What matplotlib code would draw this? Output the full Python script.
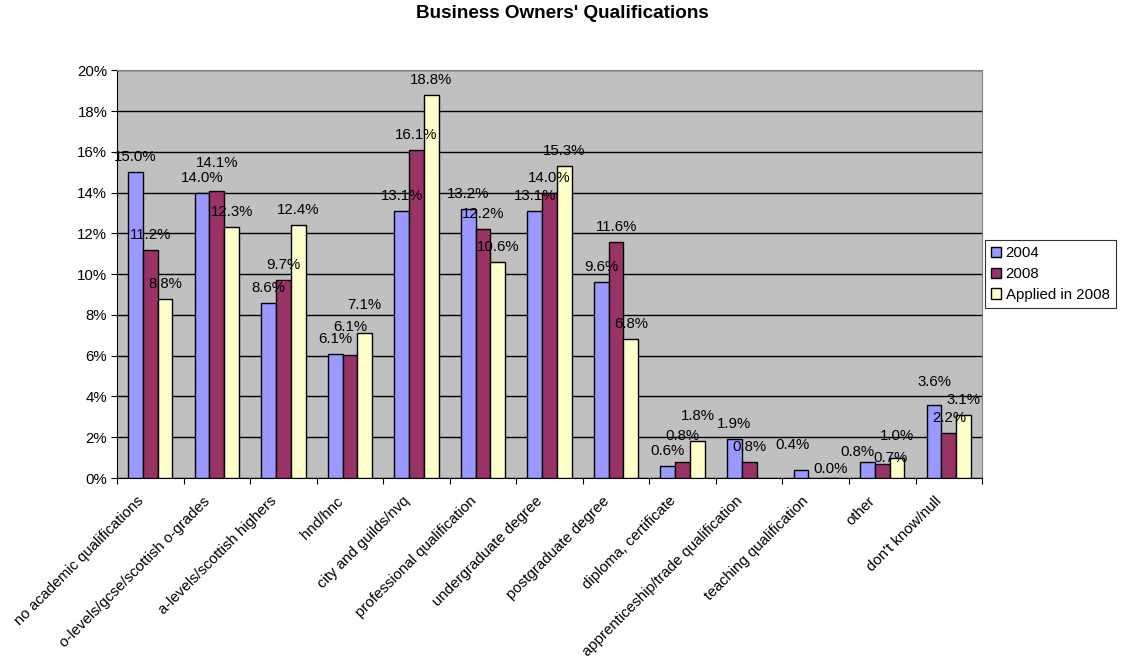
import matplotlib.pyplot as plt
import matplotlib.transforms as mtransforms
import numpy as np

plt.rcParams['font.family'] = ['Liberation Sans', 'DejaVu Sans']

categories = ["no academic qualifications", "o-levels/gcse/scottish o-grades",
              "a-levels/scottish highers", "hnd/hnc", "city and guilds/nvq",
              "professional qualification", "undergraduate degree",
              "postgraduate degree", "diploma, certificate",
              "apprenticeship/trade qualification", "teaching qualification",
              "other", "don't know/null"]
y2004 = [15.0, 14.0, 8.6, 6.1, 13.1, 13.2, 13.1, 9.6, 0.6, 1.9, 0.4, 0.8, 3.6]
y2008 = [11.2, 14.1, 9.7, 6.05, 16.1, 12.2, 14.0, 11.6, 0.8, 0.8, np.nan, 0.7, 2.2]
yapplied = [8.8, 12.3, 12.4, 7.1, 18.8, 10.6, 15.3, 6.8, 1.8, np.nan, 0.0, 1.0, 3.1]

series = [("2004", y2004, "#9999FF"),
          ("2008", y2008, "#993366"),
          ("Applied in 2008", yapplied, "#FFFFCC")]

# label nudges (pixels) where the original labels sit off their usual spot
nudge = {(1, 1): (0, 13), (3, 1): (0, 13), (3, 2): (0, 13),
         (8, 1): (0, 11), (8, 2): (0, 10), (10, 0): (-8, 10),
         (10, 2): (0, -6), (11, 0): (-10, -5), (11, 1): (8, -9),
         (11, 2): (0, 7), (12, 0): (0, 8)}


def main():
    fs = 10.8
    fig = plt.figure(figsize=(11.25, 6.63), dpi=100)
    ax = fig.add_axes([0.104, 0.279, 0.769, 0.615])
    ax.set_facecolor("#C0C0C0")

    x = np.arange(len(categories))
    w = 0.222
    for i, (name, vals, col) in enumerate(series):
        pos = x + (i - 1) * w
        ax.bar(pos, vals, width=w, color=col, edgecolor="black", linewidth=1,
               label=name, zorder=3)
        for j, (p, v) in enumerate(zip(pos, vals)):
            if np.isnan(v):
                continue
            dx, dy = nudge.get((j, i), (0, 0))
            ax.annotate("%.1f%%" % (np.round(v + 1e-9, 1)), (p, v),
                        xytext=(dx, 11 + dy), textcoords="offset pixels",
                        ha="center", va="baseline", fontsize=fs, zorder=4)

    ax.set_xlim(-0.5, len(categories) - 0.5)
    ax.set_ylim(0, 20)
    ax.set_yticks(np.arange(0, 21, 2))
    ax.set_yticklabels(["%d%%" % t for t in range(0, 21, 2)], fontsize=fs)
    ax.yaxis.grid(True, color="black", linewidth=1, zorder=0)
    ax.set_axisbelow(True)

    ax.set_xticks(np.arange(-0.5, len(categories), 1))
    ax.set_xticklabels([])
    ax.set_xticks(x, minor=True)
    ax.set_xticklabels(categories, minor=True, rotation=45, ha="right",
                       va="center", rotation_mode="anchor", fontsize=fs)
    ax.tick_params(axis="x", which="minor", length=0, pad=15)
    ax.tick_params(axis="both", which="major", length=4, direction="out")
    ax.tick_params(axis="y", pad=3)
    shift = mtransforms.ScaledTranslation(-0.09, 0, fig.dpi_scale_trans)
    for lab in ax.get_xticklabels(minor=True):
        lab.set_transform(lab.get_transform() + shift)

    for s in ["top", "right"]:
        ax.spines[s].set_color("#808080")
    ax.spines["left"].set_color("black")
    ax.spines["bottom"].set_color("black")

    fig.suptitle("Business Owners' Qualifications", fontsize=13.6, fontweight="bold",
                 y=0.992)
    leg = ax.legend(loc="center left", bbox_to_anchor=(1.003, 0.5), fontsize=fs,
                    frameon=True, fancybox=False, edgecolor="black",
                    handlelength=0.7, handleheight=0.7, handletextpad=0.3,
                    borderpad=0.4, labelspacing=0.45, borderaxespad=0)
    leg.get_frame().set_linewidth(0.8)

    fig.savefig("out.png")


if __name__ == '__main__':
    main()
